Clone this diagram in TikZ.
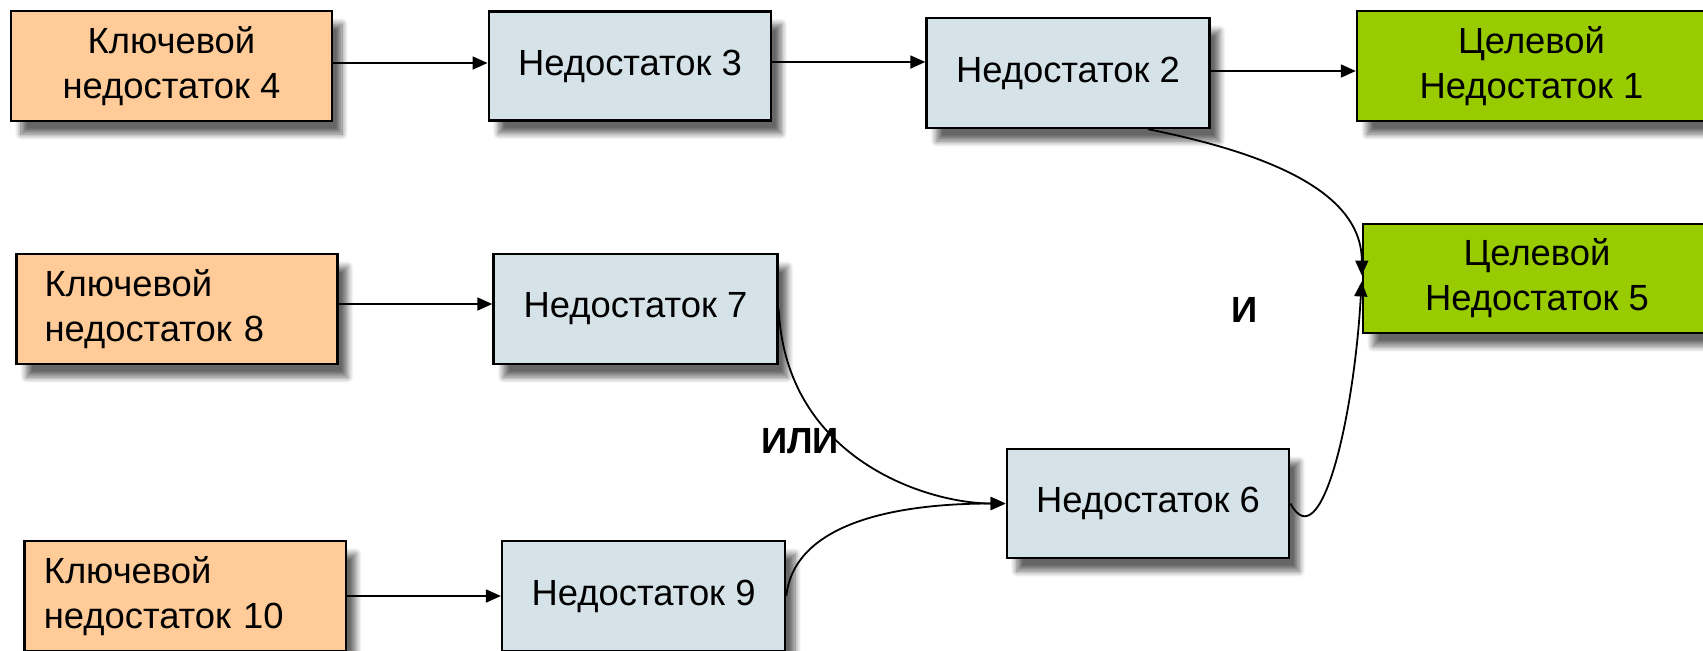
\documentclass[tikz,border=0pt]{standalone}
\usepackage{fontspec}
\setmainfont{Liberation Sans}
\usetikzlibrary{arrows.meta,shadows.blur}
\definecolor{keyc}{RGB}{255,204,153}
\definecolor{defc}{RGB}{213,226,231}
\definecolor{goalc}{RGB}{153,204,0}
\begin{document}
\begin{tikzpicture}[x=0.5pt,y=-0.5pt,
  box/.style={draw=black, line width=1.2pt, inner sep=0pt,
    font=\fontsize{18.2}{22.5}\selectfont, align=center,
    blur shadow={shadow xshift=5pt, shadow yshift=-6.5pt, shadow blur radius=3pt,
      shadow blur steps=10, shadow opacity=60}},
  keybox/.style={box, fill=keyc},
  defbox/.style={box, fill=defc},
  goalbox/.style={box, fill=goalc},
  conn/.style={line width=0.9pt, -{Triangle[length=7.5pt,width=6.5pt]}},
  lbl/.style={font=\fontsize{18.2}{22.5}\selectfont\bfseries, inner sep=0pt}
]
\useasboundingbox (0,0) rectangle (1703,650);

% row 1
\node[keybox, minimum width=160.5pt, minimum height=55pt] (k4) at (171.5,66) {Ключевой\\недостаток 4};
\node[defbox, minimum width=141.25pt, minimum height=54.5pt] (n3) at (630,66) {Недостаток 3};
\node[defbox, minimum width=141.5pt, minimum height=55pt] (n2) at (1068,73) {Недостаток 2};
\node[goalbox, minimum width=174.5pt, minimum height=55pt] (c1) at (1531.5,66) {Целевой\\Недостаток 1};

% row 2
\node[keybox, minimum width=160.5pt, minimum height=55pt, text width=132.5pt, inner xsep=14pt, align=left] (k8) at (177,309) {Ключевой\\недостаток 8};
\node[defbox, minimum width=142pt, minimum height=55pt] (n7) at (635.5,309) {Недостаток 7};
\node[goalbox, minimum width=174pt, minimum height=54.5pt] (c5) at (1537,278.5) {Целевой\\Недостаток 5};

% row 3
\node[defbox, minimum width=141.25pt, minimum height=54.5pt] (n6) at (1148,503.5) {Недостаток 6};

% row 4
\node[keybox, minimum width=160.7pt, minimum height=55pt, text width=141.2pt, inner xsep=9.5pt, align=left] (k10) at (185,596) {Ключевой\\недостаток 10};
\node[defbox, minimum width=141.5pt, minimum height=55pt] (n9) at (643.6,596) {Недостаток 9};

% labels
\node[lbl] (andl) at (1245,310) {И};
\node[lbl] (orl) at (800,441) {ИЛИ};

% straight connectors
\draw[conn] ([yshift=1.5pt]k4.east) -- ([yshift=1.5pt]n3.west);
\draw[conn] ([yshift=2pt]n3.east) -- ([yshift=2pt]n3.east -| n2.west);
\draw[conn] ([yshift=1pt]n2.east) -- ([yshift=1pt]n2.east -| c1.west);
\draw[conn] ([yshift=2.5pt]k8.east) -- ([yshift=2.5pt]n7.west);
\draw[conn] (k10.east) -- (n9.west);

% curved connectors
\draw[conn, shorten >=1.5pt] ([xshift=40pt]n2.south) .. controls +(125,25) and +(0,-85) .. (c5.west);
\draw[conn, shorten >=1.5pt] (n6.east) .. controls +(30,56) and +(-8,142) .. (c5.west);
\draw[conn] (n7.east) .. controls +(7,151) and +(-77,0) .. (n6.west);
\draw[conn] (n9.east) .. controls +(7,-66) and +(-127,0) .. (n6.west);
\end{tikzpicture}
\end{document}
